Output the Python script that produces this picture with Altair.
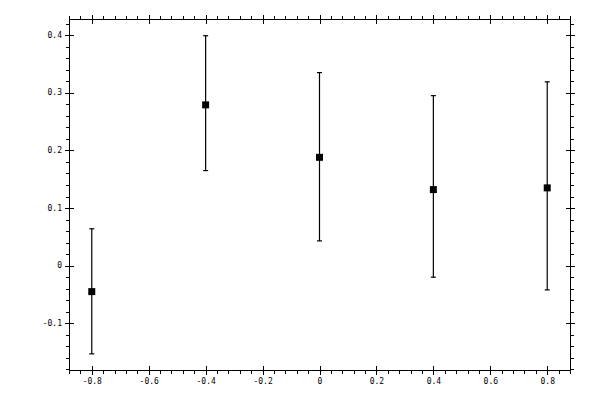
import altair as alt
import pandas as pd

# data
x_vals = [-0.8, -0.4, 0.0, 0.4, 0.8]
y_vals = [-0.045, 0.279, 0.188, 0.132, 0.135]
y_lo = [-0.153, 0.165, 0.043, -0.020, -0.042]
y_hi = [0.064, 0.399, 0.335, 0.295, 0.319]

# tick values
x_major = [-0.8, -0.6, -0.4, -0.2, 0.0, 0.2, 0.4, 0.6, 0.8]
x_minor = [round(-0.88 + 0.04 * i, 2) for i in range(45)]
y_major = [-0.1, 0.0, 0.1, 0.2, 0.3, 0.4]
y_minor = [round(-0.18 + 0.02 * i, 2) for i in range(31)]

x_domain = [-0.88, 0.88]
y_domain = [-0.181, 0.428]

df = pd.DataFrame({"x": x_vals, "y": y_vals, "lo": y_lo, "hi": y_hi})

FONT = "DejaVu Sans Mono"
xs = alt.Scale(domain=x_domain, nice=False, zero=False)
ys = alt.Scale(domain=y_domain, nice=False, zero=False)


def major_axis(orient, labels, values):
    return alt.Axis(
        orient=orient, values=values, domain=False, grid=False, ticks=True,
        tickSize=9, offset=-4.5, tickColor="black", tickWidth=1,
        labels=labels, format=".1~f",
        labelExpr="replace(datum.label, '\u2212', '-')",
        labelFont=FONT, labelFontSize=8,
        labelColor="black", labelPadding=3, title=None,
    )


def minor_axis(orient, values):
    return alt.Axis(
        orient=orient, values=values, domain=True, domainColor="black",
        domainWidth=1, grid=False, ticks=True, tickSize=3.5,
        tickColor="black", tickWidth=1, labels=False, title=None,
    )


base = alt.Chart(df)

bars = base.mark_rule(color="black", strokeWidth=1.2).encode(
    x=alt.X("x:Q", scale=xs, axis=major_axis("bottom", True, x_major)),
    y=alt.Y("lo:Q", scale=ys, axis=major_axis("left", True, y_major)),
    y2="hi:Q",
)

cap_shape = "M-1,0L1,0"
caps_lo = base.mark_point(shape=cap_shape, size=25, color="black",
                          opacity=1, strokeWidth=1.2, filled=False).encode(
    x=alt.X("x:Q", scale=xs, axis=minor_axis("bottom", x_minor)),
    y=alt.Y("lo:Q", scale=ys, axis=minor_axis("left", y_minor)),
)

caps_hi = base.mark_point(shape=cap_shape, size=25, color="black",
                          opacity=1, strokeWidth=1.2, filled=False).encode(
    x=alt.X("x:Q", scale=xs, axis=major_axis("top", False, x_major)),
    y=alt.Y("hi:Q", scale=ys, axis=major_axis("right", False, y_major)),
)

pts = base.mark_square(size=49, color="black", opacity=1).encode(
    x=alt.X("x:Q", scale=xs, axis=minor_axis("top", x_minor)),
    y=alt.Y("y:Q", scale=ys, axis=minor_axis("right", y_minor)),
)

chart = (
    alt.layer(bars, caps_lo, caps_hi, pts)
    .resolve_axis(x="independent", y="independent")
    .properties(
        width=501, height=351,
        autosize=alt.AutoSizeParams(type="none"),
        padding={"left": 61, "top": 11, "right": 20, "bottom": 22},
        background="white",
    )
    .configure_view(stroke=None)
)

chart.save("out.html", embed_options={"renderer": "svg", "actions": False})
